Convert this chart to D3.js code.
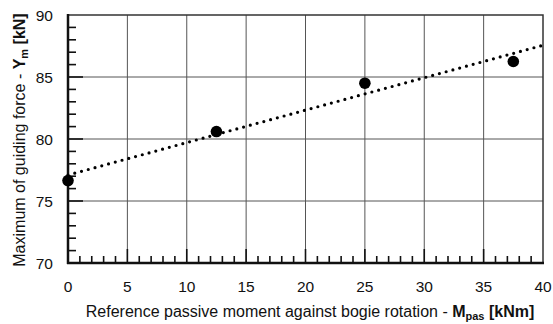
<!DOCTYPE html>
<html>
<head>
<meta charset="utf-8">
<script src="https://cdn.jsdelivr.net/npm/d3@7"></script>
<style>
  body { margin: 0; background: #fff; }
  text { font-family: "Liberation Sans", Arial, sans-serif; fill: #111; }
</style>
</head>
<body>
<svg id="chart" width="553" height="324"></svg>
<script>
// measured points
let moments = [0, 12.5, 25, 37.5];
let forces = [76.65, 80.6, 84.5, 86.25];
let xTicks = [0, 5, 10, 15, 20, 25, 30, 35, 40];
let yTicks = [70, 75, 80, 85, 90];

let svg = d3.select("#chart");
let pLeft = 68, pRight = 543, pTop = 15, pBottom = 263;

let x = d3.scaleLinear().domain([0, 40]).range([pLeft, pRight]);
let y = d3.scaleLinear().domain([70, 90]).range([pBottom, pTop]);

// grid
svg.append("g").selectAll("line").data(xTicks.slice(1, -1)).join("line")
  .attr("x1", d => x(d)).attr("x2", d => x(d))
  .attr("y1", pTop).attr("y2", pBottom)
  .attr("stroke", "#555").attr("stroke-width", 1);
svg.append("g").selectAll("line").data(yTicks.slice(1, -1)).join("line")
  .attr("x1", pLeft).attr("x2", pRight)
  .attr("y1", d => y(d)).attr("y2", d => y(d))
  .attr("stroke", "#555").attr("stroke-width", 1);

// minor and major ticks, pointing inward
let xMinor = d3.range(1, 40);
svg.append("g").selectAll("line").data(xMinor).join("line")
  .attr("x1", d => x(d)).attr("x2", d => x(d))
  .attr("y1", pBottom).attr("y2", d => d % 5 == 0 ? pBottom - 14 : pBottom - 7)
  .attr("stroke", "#111").attr("stroke-width", 1.6);
let yMinor = d3.range(71, 90);
svg.append("g").selectAll("line").data(yMinor).join("line")
  .attr("y1", d => y(d)).attr("y2", d => y(d))
  .attr("x1", pLeft).attr("x2", d => d % 5 == 0 ? pLeft + 15 : pLeft + 8)
  .attr("stroke", "#111").attr("stroke-width", 1.6);

// frame
svg.append("rect")
  .attr("x", pLeft).attr("y", pTop)
  .attr("width", pRight - pLeft).attr("height", pBottom - pTop)
  .attr("fill", "none").attr("stroke", "#333").attr("stroke-width", 1.5);
svg.append("line").attr("x1", pLeft).attr("x2", pLeft).attr("y1", pTop - 1).attr("y2", pBottom + 1)
  .attr("stroke", "#111").attr("stroke-width", 2.5);
svg.append("line").attr("x1", pLeft - 1).attr("x2", pRight + 1).attr("y1", pBottom).attr("y2", pBottom)
  .attr("stroke", "#111").attr("stroke-width", 2.5);

// tick labels
svg.append("g").selectAll("text").data(xTicks).join("text")
  .attr("x", d => x(d)).attr("y", 292)
  .attr("text-anchor", "middle").attr("font-size", 15.5)
  .text(d => d);
svg.append("g").selectAll("text").data(yTicks).join("text")
  .attr("x", 53).attr("y", d => y(d) + 5.5)
  .attr("text-anchor", "end").attr("font-size", 15.5)
  .text(d => d);

// linear trend line
let mx = d3.mean(moments), my = d3.mean(forces);
let slope = d3.sum(moments, (d, i) => (d - mx) * (forces[i] - my)) / d3.sum(moments, d => (d - mx) * (d - mx));
let icpt = my - slope * mx;
svg.append("line")
  .attr("x1", x(0)).attr("y1", y(icpt))
  .attr("x2", x(40)).attr("y2", y(icpt + slope * 40))
  .attr("stroke", "#000").attr("stroke-width", 3.2)
  .attr("stroke-linecap", "round").attr("stroke-dasharray", "0,7");

// points
svg.append("g").selectAll("circle").data(moments).join("circle")
  .attr("cx", d => x(d)).attr("cy", (d, i) => y(forces[i]))
  .attr("r", 5.8).attr("fill", "#000");

// axis titles
let xt = svg.append("text").attr("x", 310).attr("y", 317)
  .attr("text-anchor", "middle").attr("font-size", 16);
xt.append("tspan").text("Reference passive moment against bogie rotation - ");
xt.append("tspan").attr("font-weight", "bold").text("M");
xt.append("tspan").attr("font-weight", "bold").attr("font-size", 11).attr("dy", 3).text("pas");
xt.append("tspan").attr("font-weight", "bold").attr("dy", -3).text(" [kNm]");

let yt = svg.append("text").attr("transform", "translate(25,140) rotate(-90)")
  .attr("text-anchor", "middle").attr("font-size", 16);
yt.append("tspan").text("Maximum of guiding force - ");
yt.append("tspan").attr("font-weight", "bold").text("Y");
yt.append("tspan").attr("font-weight", "bold").attr("font-size", 11).attr("dy", 3).text("m");
yt.append("tspan").attr("font-weight", "bold").attr("dy", -3).text(" [kN]");
</script>
</body>
</html>
